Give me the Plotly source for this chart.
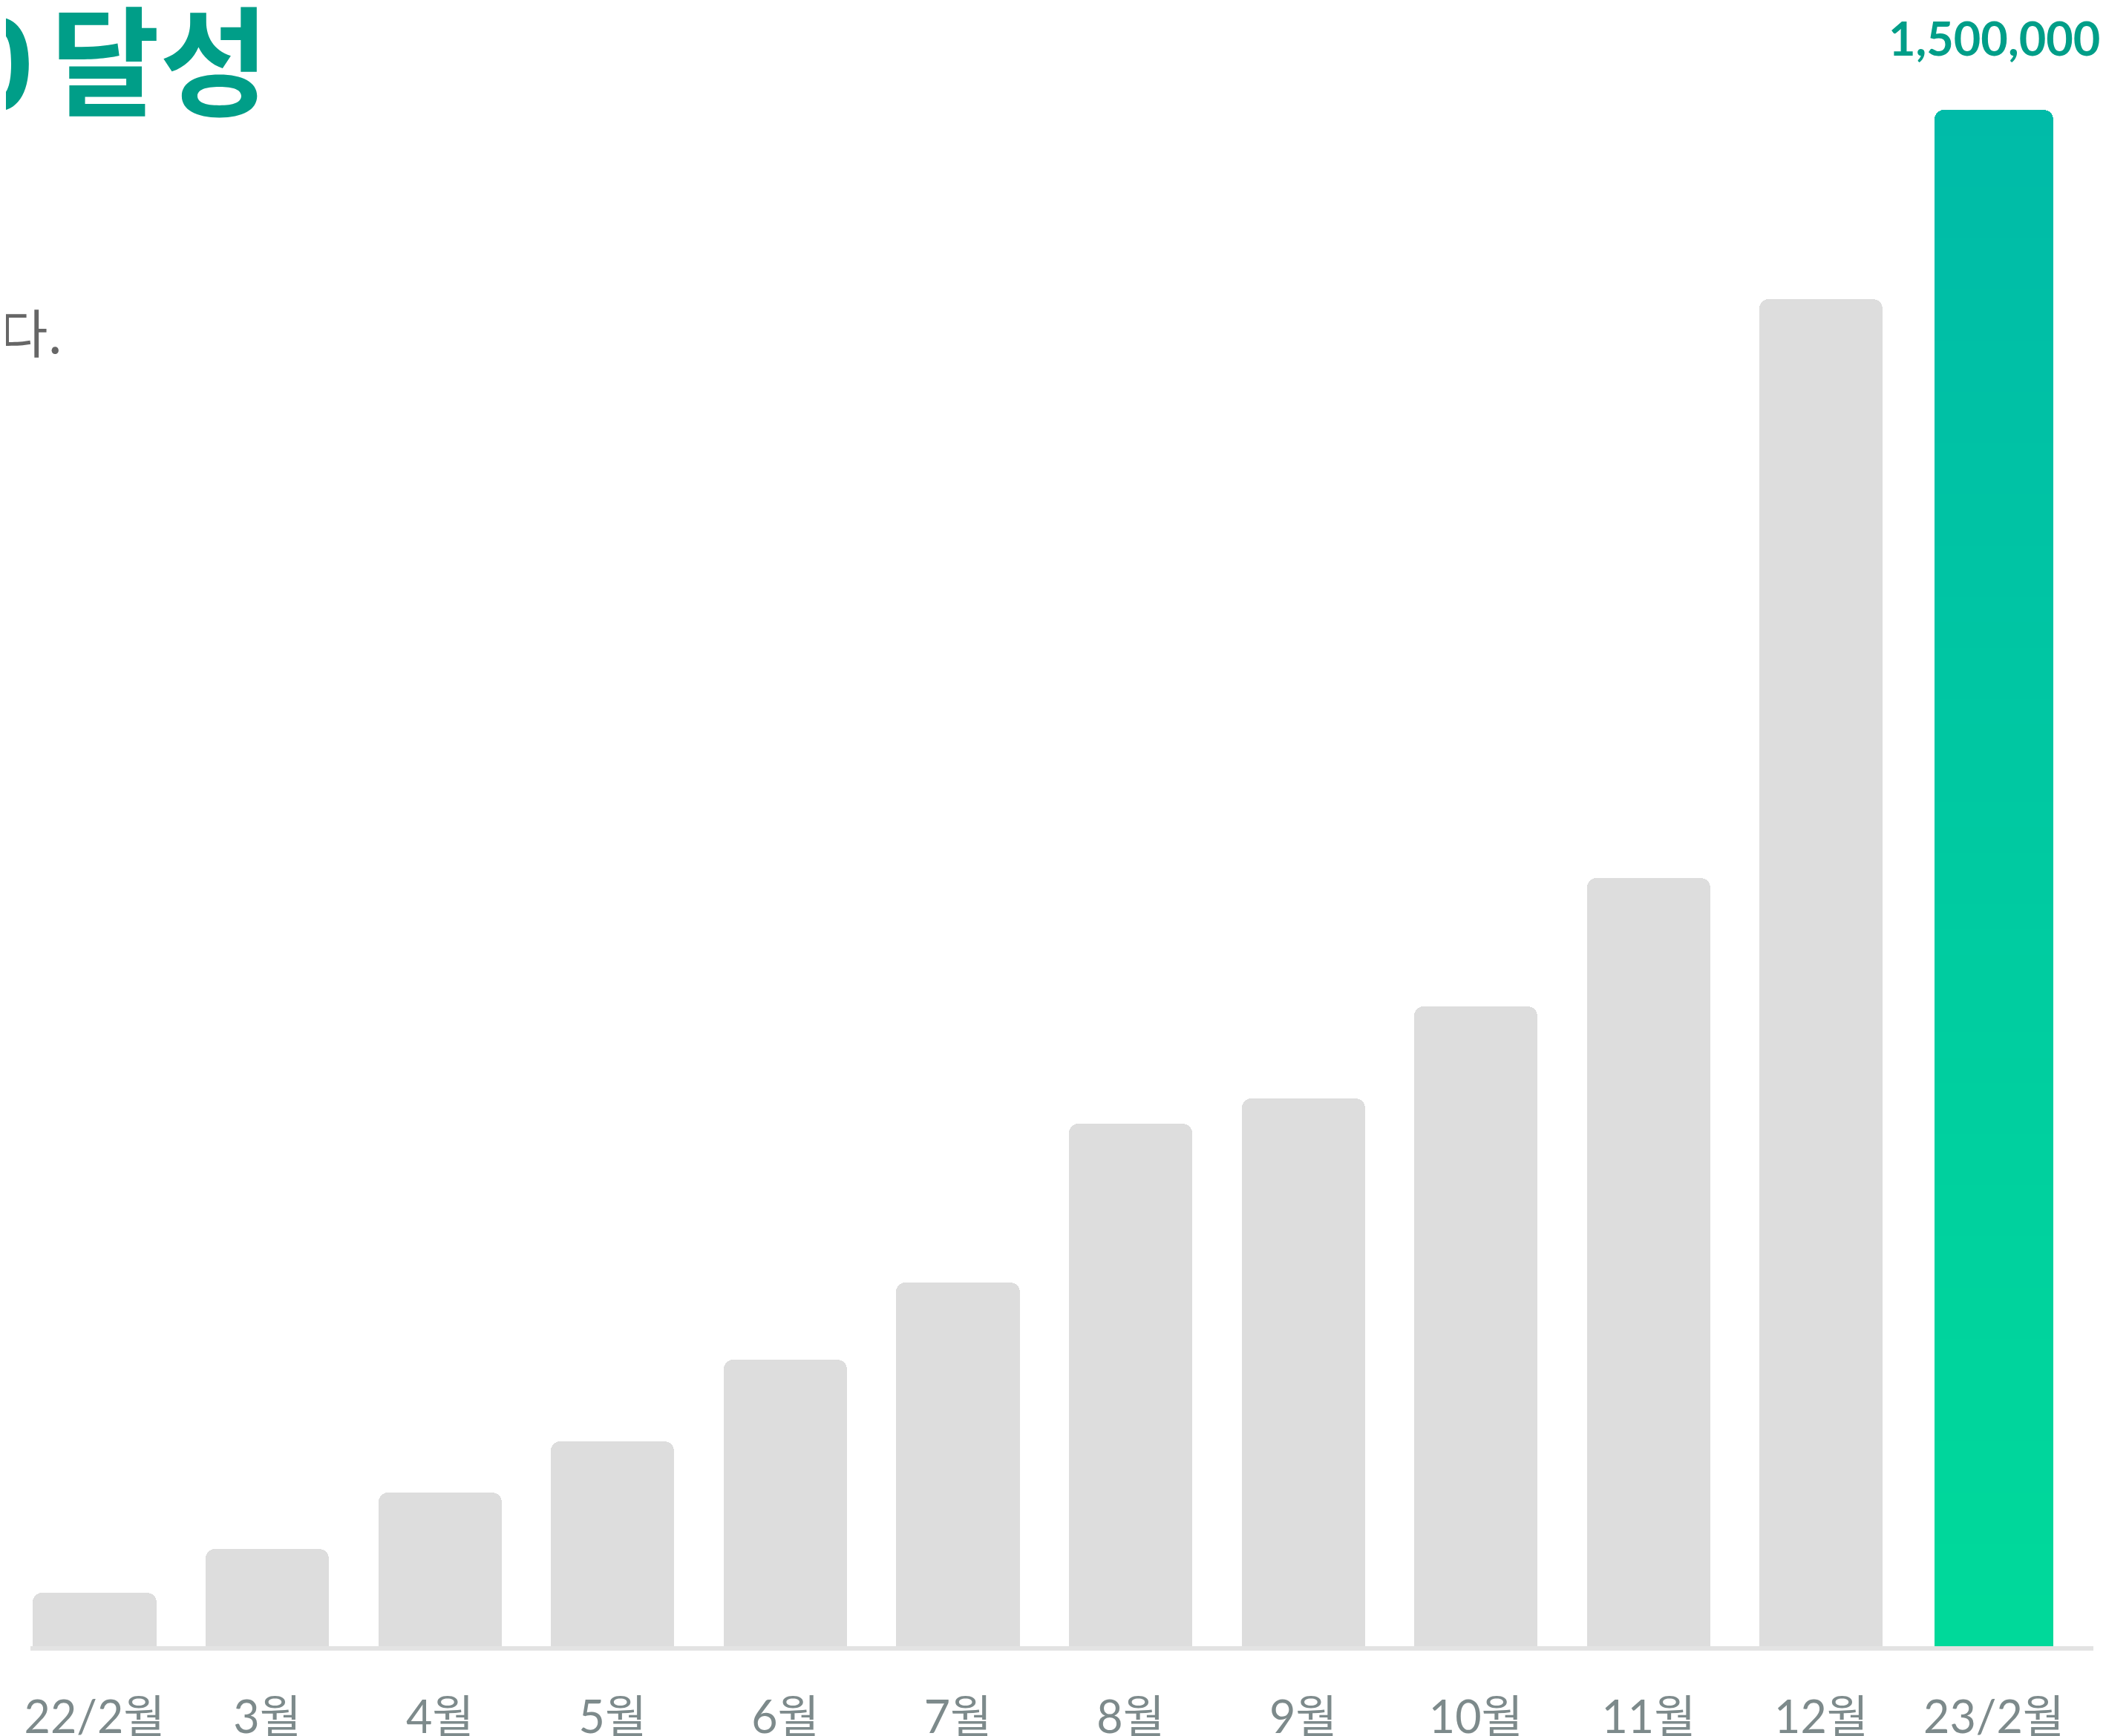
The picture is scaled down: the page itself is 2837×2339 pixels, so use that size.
import plotly.graph_objects as go

# ---- data ----
categories = ["22/2월", "3월", "4월", "5월", "6월", "7월", "8월", "9월", "10월", "11월", "12월", "23/2월"]
values = [52000, 95000, 150000, 200000, 280000, 355000, 510000, 535000, 625000, 750000, 1315000, 1500000]
highlight_label = "1,500,000"
title_number = "0"
title_word = "달성"
subtitle_text = "다."

# ---- style ----
W, H = 2837, 2339
ML, MR, MT, MB = 33, 25, 0, 129
GRAY = "#DDDDDD"
TEAL_TEXT = "#009E88"
GRAD_TOP = (0, 187, 168)
GRAD_BOTTOM = (0, 218, 154)
BAR_W = 0.714
N_SEG = 60
TOP_PX = 140  # pixel row of the tallest bar's top

plot_w = W - ML - MR
plot_h = H - MT - MB

def px_x(px):
    return (px - ML) / plot_w

def px_y(py):
    return (H - MB - py) / plot_h

fig = go.Figure()

# gray bars (all but the highlighted last bar)
fig.add_trace(go.Bar(
    x=categories[:-1], y=values[:-1],
    width=BAR_W,
    marker=dict(color=GRAY, cornerradius=13, line=dict(width=0)),
    hoverinfo="skip", showlegend=False,
))

# highlighted last bar drawn as a vertical gradient
last_cat = categories[-1]
last_val = values[-1]

def mix(t):
    r = GRAD_BOTTOM[0] + (GRAD_TOP[0] - GRAD_BOTTOM[0]) * t
    g = GRAD_BOTTOM[1] + (GRAD_TOP[1] - GRAD_BOTTOM[1]) * t
    b = GRAD_BOTTOM[2] + (GRAD_TOP[2] - GRAD_BOTTOM[2]) * t
    return f"rgb({r:.0f},{g:.0f},{b:.0f})"

fig.add_trace(go.Bar(
    x=[last_cat], y=[last_val], width=BAR_W * 0.965,
    marker=dict(color=mix(1.0), cornerradius=13, line=dict(width=0)),
    hoverinfo="skip", showlegend=False,
))
fracs = [(N_SEG - 1 - i) / N_SEG for i in range(N_SEG - 1)]
fig.add_trace(go.Bar(
    x=[last_cat] * len(fracs), y=[last_val * f for f in fracs], width=BAR_W * 0.965,
    marker=dict(color=[mix(f) for f in fracs], line=dict(width=0)),
    hoverinfo="skip", showlegend=False,
))

ymax = last_val * plot_h / (plot_h - TOP_PX)

fig.update_layout(
    width=W, height=H,
    margin=dict(l=ML, r=MR, t=MT, b=MB, pad=0),
    paper_bgcolor="white", plot_bgcolor="white",
    barmode="overlay",
    bargap=0,
    xaxis=dict(
        type="category", categoryorder="array", categoryarray=categories,
        range=[-0.372, 11.576],
        showgrid=False, zeroline=False,
        showline=True, linecolor="#E3E3E3", linewidth=6,
        ticks="", ticklabelstandoff=38,
        tickfont=dict(family="Lato, 'Noto Sans CJK KR'", size=61, color="#7D8A8B"),
        layer="below traces",
    ),
    yaxis=dict(range=[0, ymax], visible=False, showgrid=False, zeroline=False),
    annotations=[
        dict(xref="x", yref="y", x=last_cat, y=last_val, text=highlight_label,
             showarrow=False, yanchor="bottom", yshift=58,
             font=dict(family="Lato", size=63, color=TEAL_TEXT, weight="bold")),
        dict(xref="paper", yref="paper", x=px_x(356), y=px_y(66), text=title_word,
             showarrow=False, xanchor="right", yanchor="middle",
             font=dict(family="'Noto Sans CJK KR'", size=160, color=TEAL_TEXT, weight="bold")),
        dict(xref="paper", yref="paper", x=px_x(40), y=px_y(66), text=title_number,
             showarrow=False, xanchor="right", yanchor="middle",
             font=dict(family="'Noto Sans CJK KR'", size=170, color=TEAL_TEXT, weight="bold")),
        dict(xref="paper", yref="paper", x=px_x(78), y=px_y(438), text=subtitle_text,
             showarrow=False, xanchor="right", yanchor="middle",
             font=dict(family="'Noto Sans CJK KR'", size=70, color="#666666")),
    ],
)

fig.write_html("out.html")
